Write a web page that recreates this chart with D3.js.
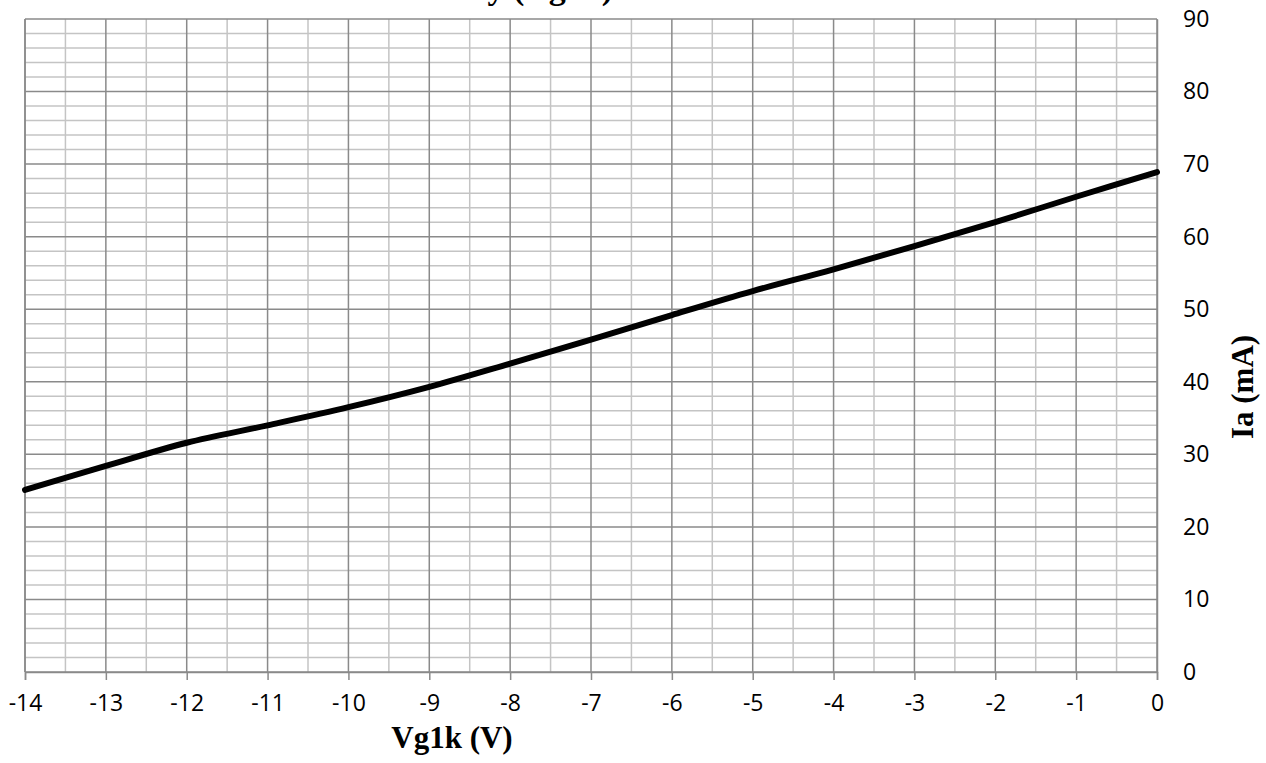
<!DOCTYPE html>
<html>
<head>
<meta charset="utf-8">
<script src="https://cdn.jsdelivr.net/npm/d3@7"></script>
<style>
html, body { margin: 0; padding: 0; background: #fff; }
svg { display: block; }
</style>
</head>
<body>
<svg id="chart" width="1266" height="763"></svg>
<script>
// Data
const vg1k = [-14, -13, -12, -11, -10, -9, -8, -7, -6, -5, -4, -3, -2, -1, 0];
const ia   = [25.1, 28.4, 31.6, 34.0, 36.5, 39.3, 42.5, 45.8, 49.2, 52.5, 55.5, 58.7, 62.0, 65.5, 68.9];
const xTicks = [-14, -13, -12, -11, -10, -9, -8, -7, -6, -5, -4, -3, -2, -1, 0];
const yTicks = [0, 10, 20, 30, 40, 50, 60, 70, 80, 90];
const titleText = "Ia Transfer Curve by (Vg1k)";
const xTitle = "Vg1k (V)";
const yTitle = "Ia (mA)";

const svg = d3.select("#chart");
const L = 25, R = 1157, T = 19, B = 672;

const x = d3.scaleLinear().domain([-14, 0]).range([L, R]);
const y = d3.scaleLinear().domain([0, 90]).range([B, T]);

// Minor grid
const minorX = d3.range(-14, 0.001, 0.5).filter(v => Math.abs(v - Math.round(v)) > 1e-6);
const minorY = d3.range(0, 90.001, 2).filter(v => v % 10 !== 0);

const grid = svg.append("g");
grid.selectAll("line.mx").data(minorX).enter().append("line")
  .attr("x1", d => x(d)).attr("x2", d => x(d)).attr("y1", T).attr("y2", B)
  .attr("stroke", "#c4c4c4").attr("stroke-width", 1.5);
grid.selectAll("line.my").data(minorY).enter().append("line")
  .attr("x1", L).attr("x2", R).attr("y1", d => y(d)).attr("y2", d => y(d))
  .attr("stroke", "#c4c4c4").attr("stroke-width", 1.5);
// Major grid
grid.selectAll("line.Mx").data(xTicks).enter().append("line")
  .attr("x1", d => x(d)).attr("x2", d => x(d)).attr("y1", T).attr("y2", B)
  .attr("stroke", "#8a8a8a").attr("stroke-width", 1.5);
grid.selectAll("line.My").data(yTicks).enter().append("line")
  .attr("x1", L).attr("x2", R).attr("y1", d => y(d)).attr("y2", d => y(d))
  .attr("stroke", "#8a8a8a").attr("stroke-width", 1.5);

const labelFont = "'Open Sans', 'Liberation Sans', Arial, sans-serif";

// Bottom axis
const xAxis = d3.axisBottom(x).tickValues(xTicks).tickSize(8).tickPadding(15)
  .tickFormat(d => d === 0 ? "0" : "-" + Math.abs(d));
const gx = svg.append("g").attr("transform", `translate(0,${B})`).call(xAxis);
gx.select(".domain").attr("stroke", "#8a8a8a").attr("stroke-width", 1.5);
gx.selectAll(".tick line").attr("stroke", "#8a8a8a").attr("stroke-width", 1.5);
gx.selectAll("text").attr("font-family", labelFont)
  .attr("font-size", 23).attr("fill", "#000");

// Right axis labels
const yAxis = d3.axisRight(y).tickValues(yTicks).tickSize(0).tickPadding(26);
const gy = svg.append("g").attr("transform", `translate(${R},0)`).call(yAxis);
gy.select(".domain").attr("stroke", "#8a8a8a").attr("stroke-width", 1.5);
gy.selectAll("text").attr("font-family", labelFont)
  .attr("font-size", 23).attr("fill", "#000");

// Left border
svg.append("line").attr("x1", L).attr("x2", L).attr("y1", T).attr("y2", B)
  .attr("stroke", "#8a8a8a").attr("stroke-width", 1.5);

// Curve
const line = d3.line().x((d, i) => x(vg1k[i])).y(d => y(d)).curve(d3.curveCatmullRom.alpha(0.5));
svg.append("path").datum(ia).attr("d", line)
  .attr("fill", "none").attr("stroke", "#000").attr("stroke-width", 6)
  .attr("stroke-linecap", "round").attr("stroke-linejoin", "round");

// Titles
svg.append("text").attr("x", 613).attr("y", -1).attr("text-anchor", "end")
  .attr("font-family", "Liberation Serif, Times New Roman, serif").attr("font-weight", "bold")
  .attr("font-size", 34).text(titleText);

svg.append("text").attr("x", 452).attr("y", 748).attr("text-anchor", "middle")
  .attr("font-family", "Liberation Serif, Times New Roman, serif").attr("font-weight", "bold")
  .attr("font-size", 31).text(xTitle);

svg.append("text").attr("transform", "translate(1253,387) rotate(-90)").attr("text-anchor", "middle")
  .attr("font-family", "Liberation Serif, Times New Roman, serif").attr("font-weight", "bold")
  .attr("font-size", 31).text(yTitle);
</script>
</body>
</html>
